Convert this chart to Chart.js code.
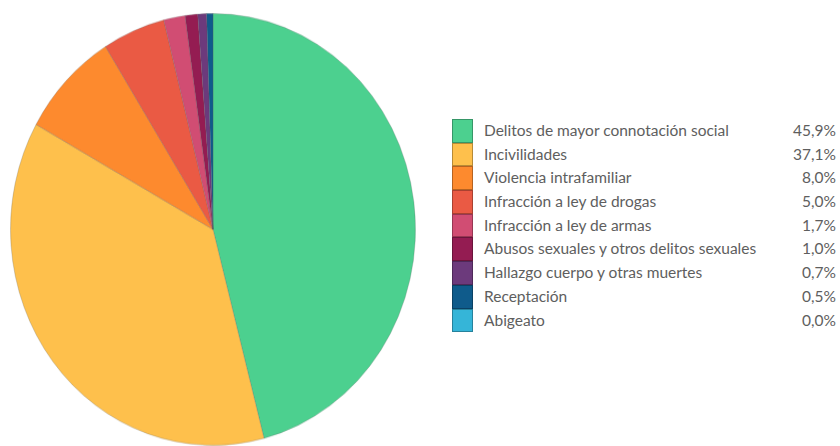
<!DOCTYPE html>
<html>
<head>
<meta charset="utf-8">
<script src="https://cdn.jsdelivr.net/npm/chart.js@4.4.1/dist/chart.umd.min.js"></script>
<style>
  html, body { margin:0; padding:0; background:#fff; width:840px; height:446px; overflow:hidden; }
  #pieWrap { position:absolute; left:10px; top:13px; width:406px; height:406px; transform-origin:0 0; transform:scaleY(1.066); }
  #legend { position:absolute; left:452px; top:119px; width:384px; font-family:Lato, "Open Sans", sans-serif; font-size:15.5px; color:#5e5e5e; }
  .row { position:relative; height:23.7px; }
  .sw { position:absolute; left:0; top:0; width:21px; height:23.7px; border:0.6px solid rgba(0,0,0,0.28); box-sizing:border-box; }
  .lab { position:absolute; left:32px; top:0; line-height:23.7px; white-space:nowrap; }
  .val { position:absolute; right:0; top:0; line-height:23.7px; }
</style>
</head>
<body>
<div id="pieWrap"><canvas id="c"></canvas></div>
<div id="legend"></div>
<script>
const categories = [
  "Delitos de mayor connotación social",
  "Incivilidades",
  "Violencia intrafamiliar",
  "Infracción a ley de drogas",
  "Infracción a ley de armas",
  "Abusos sexuales y otros delitos sexuales",
  "Hallazgo cuerpo y otras muertes",
  "Receptación",
  "Abigeato"
];
const values = [45.9, 37.1, 8.0, 5.0, 1.7, 1.0, 0.7, 0.5, 0.0];
const valueLabels = ["45,9%", "37,1%", "8,0%", "5,0%", "1,7%", "1,0%", "0,7%", "0,5%", "0,0%"];
const colors = ["#4cd08f", "#fec04c", "#fd8a2e", "#ea5a44", "#d14d73", "#941c52", "#6c3a7c", "#0f5b8b", "#35b5d8"];

new Chart(document.getElementById('c'), {
  type: 'pie',
  data: {
    labels: categories,
    datasets: [{
      data: values,
      backgroundColor: colors,
      borderColor: 'rgba(90,90,90,0.25)',
      borderWidth: 1
    }]
  },
  options: {
    responsive: true,
    maintainAspectRatio: false,
    animation: false,
    layout: { padding: 0 },
    plugins: { legend: { display: false }, tooltip: { enabled: false } }
  }
});

const lg = document.getElementById('legend');
categories.forEach((name, i) => {
  const row = document.createElement('div');
  row.className = 'row';
  const sw = document.createElement('div');
  sw.className = 'sw';
  sw.style.background = colors[i];
  const lab = document.createElement('div');
  lab.className = 'lab';
  lab.textContent = name;
  const val = document.createElement('div');
  val.className = 'val';
  val.textContent = valueLabels[i];
  row.appendChild(sw); row.appendChild(lab); row.appendChild(val);
  lg.appendChild(row);
});
</script>
</body>
</html>
